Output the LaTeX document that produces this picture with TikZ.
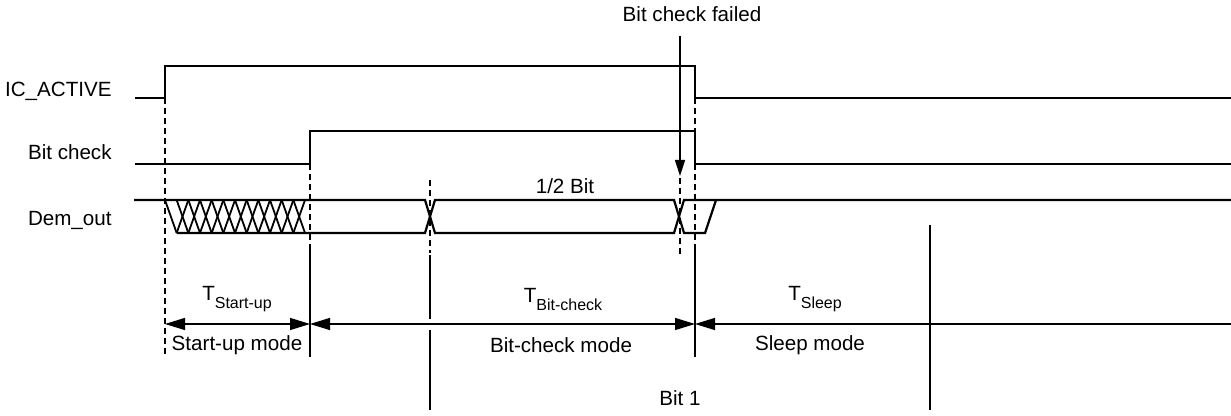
\documentclass[tikz,border=0pt]{standalone}
\usepackage{fontspec}
\setmainfont{Liberation Sans}
\usetikzlibrary{arrows.meta}
\newcommand{\Tsub}[1]{T\raisebox{-4pt}{\fontsize{8}{9}\selectfont #1}}
\begin{document}
\begin{tikzpicture}[x=0.5pt,y=-0.5pt,
  sig/.style={line width=1.1pt, line join=miter},
  thin/.style={line width=0.6pt},
  guide/.style={line width=0.6pt, dash pattern=on 3pt off 2pt},
  dim/.style={line width=0.7pt},
  tip/.style={-{Triangle[length=10pt,width=6pt]}},
  lbl/.style={font=\fontsize{10.3}{12}\selectfont, inner sep=0pt},
  siglbl/.style={lbl, anchor=east}]
\useasboundingbox (0,0) rectangle (1231,416);

% signal labels
\node[siglbl] (lic) at (112,91) {IC\_ACTIVE};
\node[siglbl] (lbc) at (112,152) {Bit check};
\node[siglbl] (ldo) at (112,220) {Dem\_out};

% IC_ACTIVE
\draw[sig] (135,98) -- (165,98) -- (165,66) -- (695,66) -- (695,98) -- (1231,98);
% Bit check
\draw[sig] (135,164) -- (310,164) -- (310,131) -- (695,131) -- (695,164) -- (1231,164);
% Dem_out
\draw[sig] (134,200) -- (425,200) -- (435,233) -- (674,233) -- (684,200) -- (1231,200);
\draw[sig] (176.67,233) -- (425,233) -- (435,200) -- (674,200) -- (684,233) -- (705,233) -- (716,200);
\foreach \k in {0,...,11} {
  \draw[line width=0.9pt] ({165+\k*11.667},200) -- ({165+(\k+1)*11.667},233);
}
\foreach \k in {1,...,11} {
  \draw[line width=0.9pt] ({165+\k*11.667},233) -- ({165+(\k+1)*11.667},200);
}

% guide lines
\draw[guide] (165,98) -- (165,357);
\draw[guide] (310,164) -- (310,245);
\draw[thin] (310,245) -- (310,357);
\draw[guide] (430,180) -- (430,253);
\draw[thin] (430,255) -- (430,319);
\draw[thin] (430,330) -- (430,410);
\draw[guide] (695,98) -- (695,131);
\draw[guide] (695,164) -- (695,250);
\draw[thin] (695,250) -- (695,357);
\draw[guide] (680,178) -- (680,257);
\draw[thin] (930,225) -- (930,410);

% failure marker
\node[lbl] (fail) at (692,14) {Bit check failed};
\coordinate (failtip) at (680,176);
\draw[thin,-{Triangle[length=8pt,width=5pt]}] (680,36) -- (failtip);

% dimension line
\coordinate (d0) at (165,324);
\coordinate (d1) at (310,324);
\coordinate (d2) at (695,324);
\coordinate (d3) at (1231,324);
\draw[dim,{Triangle[length=10pt,width=6pt]}-{Triangle[length=10pt,width=6pt]}] (d0) -- (d1);
\draw[dim,{Triangle[length=10pt,width=6pt]}-{Triangle[length=10pt,width=6pt]}] (d1) -- (d2);
\draw[dim,{Triangle[length=10pt,width=6pt]}-] (d2) -- (d3);

% texts
\node[lbl] (half) at (565,186) {1/2 Bit};
\node[lbl] (tsu) at (237,299) {\Tsub{Start-up}};
\node[lbl] (tbc) at (563,299) {\Tsub{Bit-check}};
\node[lbl] (tsl) at (815,299) {\Tsub{Sleep}};
\node[lbl] (msu) at (237,345) {Start-up mode};
\node[lbl] (mbc) at (561,345) {Bit-check mode};
\node[lbl] (msl) at (810,345) {Sleep mode};
\node[lbl] (bit1) at (680,398) {Bit 1};
\end{tikzpicture}
\end{document}
